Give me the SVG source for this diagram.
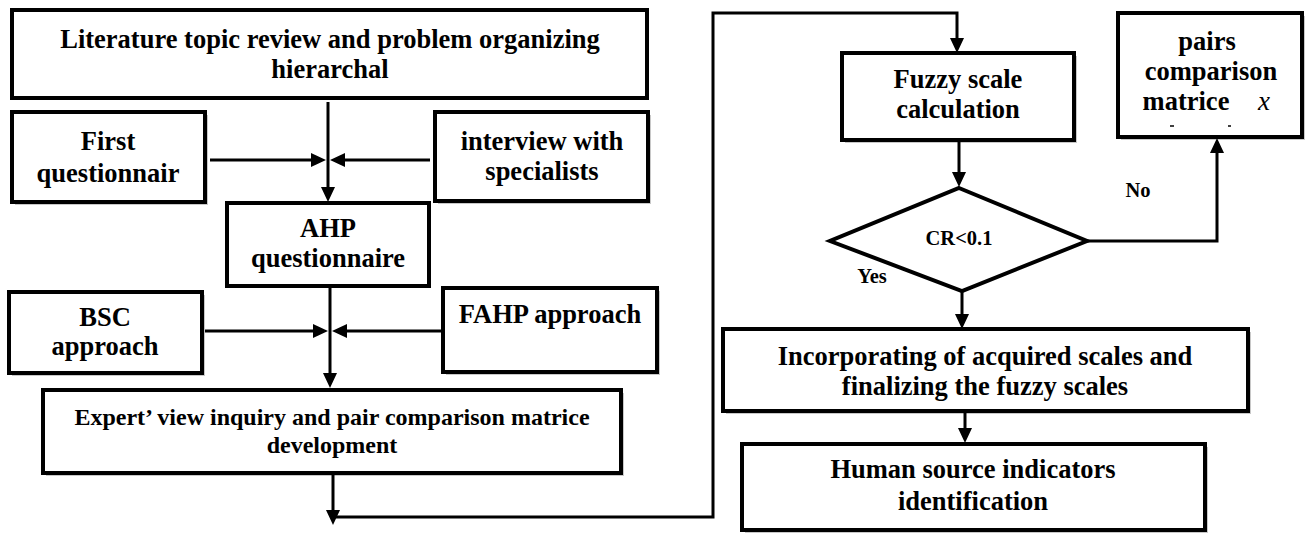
<svg xmlns="http://www.w3.org/2000/svg" width="1309" height="534" viewBox="0 0 1309 534">
<style>
.box{fill:#fff;stroke:#000;stroke-width:4}
.sh{fill:#c8c8c8;stroke:none}
.t{font-family:"Liberation Serif","Times New Roman",serif;font-weight:bold;font-size:26.5px;fill:#000;text-anchor:middle}
.s{font-size:24px}
.m{font-size:20.5px}
.i{font-style:italic;font-weight:normal;font-size:27px}
.c{fill:none;stroke:#000;stroke-width:3}
</style>
<defs>
<marker id="ah" viewBox="0 0 15 14" refX="5" refY="7" markerWidth="15" markerHeight="14" markerUnits="userSpaceOnUse" orient="auto">
<path d="M0,0 L15,7 L0,14 z" fill="#000"/>
</marker>
</defs>
<rect width="1309" height="534" fill="#fff"/>
<g id="literature">
<rect class="box" x="12" y="10" width="635" height="88"/>
<text class="t" x="330" y="48">Literature topic review and problem organizing</text>
<text class="t" x="330" y="78">hierarchal</text>
</g>
<g id="first">
<rect class="sh" x="15" y="115" width="193" height="90"/>
<rect class="box" x="12" y="112" width="193" height="90"/>
<text class="t" x="108" y="150">First</text>
<text class="t" x="108" y="182">questionnair</text>
</g>
<g id="interview">
<rect class="sh" x="438" y="115" width="213" height="89"/>
<rect class="box" x="435" y="112" width="213" height="89"/>
<text class="t" x="542" y="150">interview with</text>
<text class="t" x="542" y="180">specialists</text>
</g>
<g id="ahp">
<rect class="box" x="227" y="203" width="202" height="83"/>
<text class="t" x="328" y="237">AHP</text>
<text class="t" x="328" y="267">questionnaire</text>
</g>
<g id="bsc">
<rect class="sh" x="12" y="295" width="193" height="81"/>
<rect class="box" x="9" y="292" width="193" height="81"/>
<text class="t" x="105" y="326">BSC</text>
<text class="t" x="105" y="355">approach</text>
</g>
<g id="fahp">
<rect class="sh" x="446" y="291" width="214" height="84"/>
<rect class="box" x="443" y="288" width="214" height="84"/>
<text class="t" x="550" y="323">FAHP approach</text>
</g>
<g id="expert">
<rect class="sh" x="46" y="393" width="578" height="83"/>
<rect class="box" x="43" y="390" width="578" height="83"/>
<text class="t s" x="332" y="425">Expert’ view inquiry and pair comparison matrice</text>
<text class="t s" x="332" y="453">development</text>
</g>
<g id="fuzzy">
<rect class="sh" x="845" y="56" width="232" height="87"/>
<rect class="box" x="842" y="53" width="232" height="87"/>
<text class="t" x="958" y="88">Fuzzy scale</text>
<text class="t" x="958" y="118">calculation</text>
</g>
<g id="pairs">
<rect class="sh" x="1121" y="16" width="184" height="124"/>
<rect class="box" x="1118" y="13" width="184" height="124"/>
<text class="t" x="1207" y="50">pairs</text>
<text class="t" x="1211" y="80">comparison</text>
<text class="t" x="1186" y="110">matrice</text>
<text class="t i" x="1264" y="110">x</text>
<line x1="1170" y1="126" x2="1174" y2="126" stroke="#000" stroke-width="1.5"/>
<line x1="1228" y1="126" x2="1231" y2="126" stroke="#000" stroke-width="1.5"/>
</g>
<g id="decision">
<polygon points="959,188 1087,241 962,291 830,241" fill="#fff" stroke="#000" stroke-width="4"/>
<text class="t m" x="959" y="245">CR&lt;0.1</text>
</g>
<g id="incorporating">
<rect class="sh" x="726" y="332" width="525" height="82"/>
<rect class="box" x="723" y="329" width="525" height="82"/>
<text class="t" x="985" y="365">Incorporating of acquired scales and</text>
<text class="t" x="985" y="395">finalizing the fuzzy scales</text>
</g>
<g id="human">
<rect class="sh" x="745" y="447" width="463" height="86"/>
<rect class="box" x="742" y="444" width="463" height="86"/>
<text class="t" x="973" y="478">Human source indicators</text>
<text class="t" x="973" y="510">identification</text>
</g>
<g id="connectors">
<path class="c" d="M328,102 V192" marker-end="url(#ah)"/>
<path class="c" d="M210,160 H316" marker-end="url(#ah)"/>
<path class="c" d="M430,160 H340" marker-end="url(#ah)"/>
<path class="c" d="M330,286 V378" marker-end="url(#ah)"/>
<path class="c" d="M205,331 H318" marker-end="url(#ah)"/>
<path class="c" d="M441,331 H342" marker-end="url(#ah)"/>
<path class="c" d="M333,473 V515" marker-end="url(#ah)"/>
<path class="c" d="M336,517 H713 V13 H957 V43" marker-end="url(#ah)"/>
<path class="c" d="M959,140 V177" marker-end="url(#ah)"/>
<path class="c" d="M962,291 V319" marker-end="url(#ah)"/>
<path class="c" d="M1087,241 H1217 V148" marker-end="url(#ah)"/>
<path class="c" d="M965,411 V433" marker-end="url(#ah)"/>
<text class="t m" x="1138" y="197">No</text>
<text class="t m" x="872" y="283">Yes</text>
</g>
</svg>
